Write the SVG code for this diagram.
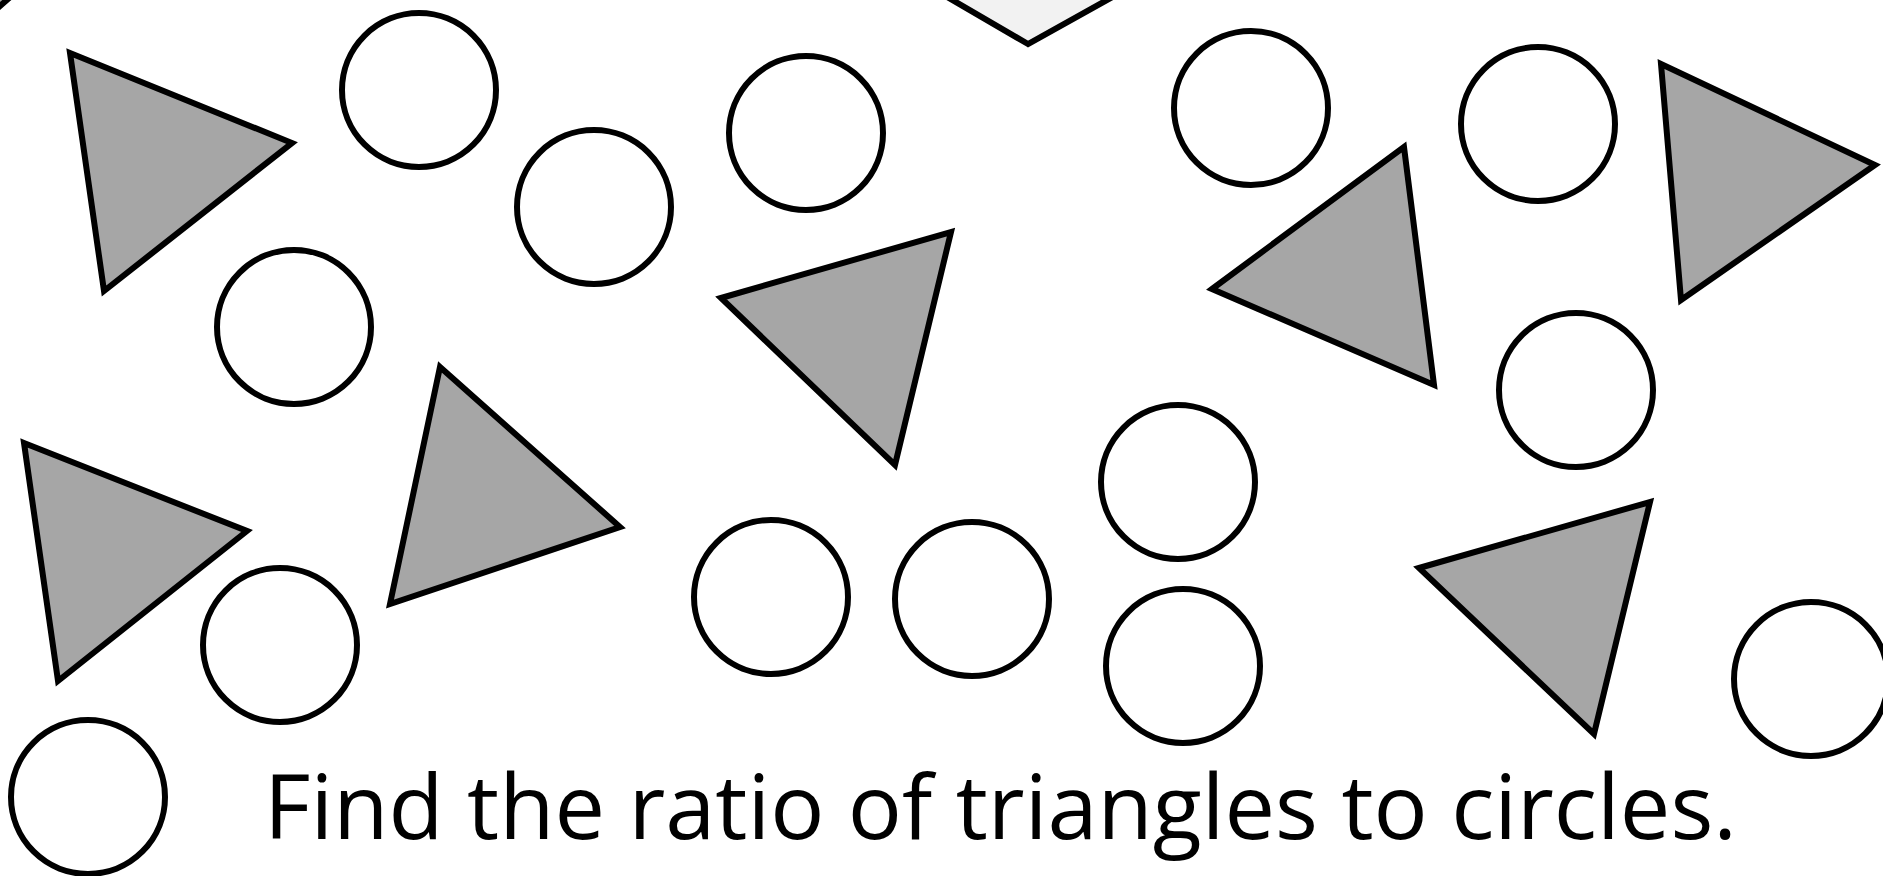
<svg xmlns="http://www.w3.org/2000/svg" width="1883" height="876" viewBox="0 0 1883 876">
<style>
.c{fill:#ffffff;stroke:#000000;stroke-width:6}
.t{fill:#a6a6a6;stroke:#000000;stroke-width:6;stroke-linejoin:miter}
.p{fill:#f2f2f2;stroke:#000000;stroke-width:6}
.lbl{font-family:"Open Sans","Noto Sans","Liberation Sans",sans-serif;font-size:90px;fill:#000000}
</style>
<rect width="1883" height="876" fill="#ffffff"/>
<g id="partial-top"><polygon class="p" points="1028,44 918,-20 1143,-20"/></g>
<g id="partial-corner"><polygon class="t" points="8,-1 0,6 -30,-20"/></g>
<g id="circles">
<circle id="c1" class="c" cx="419" cy="90" r="77"/>
<circle id="c2" class="c" cx="594" cy="207" r="77"/>
<circle id="c3" class="c" cx="294" cy="327" r="77"/>
<circle id="c4" class="c" cx="806" cy="133" r="77"/>
<circle id="c5" class="c" cx="1251" cy="108" r="77"/>
<circle id="c6" class="c" cx="1538" cy="124" r="77"/>
<circle id="c7" class="c" cx="1576" cy="390" r="77"/>
<circle id="c8" class="c" cx="1178" cy="482" r="77"/>
<circle id="c9" class="c" cx="280" cy="645" r="77"/>
<circle id="c10" class="c" cx="771" cy="597" r="77"/>
<circle id="c11" class="c" cx="972" cy="599" r="77"/>
<circle id="c12" class="c" cx="1183" cy="666" r="77"/>
<circle id="c13" class="c" cx="1811" cy="679" r="77"/>
<circle id="c14" class="c" cx="88" cy="797" r="77"/>
</g>
<g id="triangles">
<polygon id="t1" class="t" points="70,53 292,143 104,291"/>
<polygon id="t2" class="t" points="1661,64 1875,165 1681,300"/>
<polygon id="t3" class="t" points="1212,289 1404,147 1434,385"/>
<polygon id="t4" class="t" points="721,298 951,232 895,465"/>
<polygon id="t5" class="t" points="24,443 247,531 58,681"/>
<polygon id="t6" class="t" points="440,367 620,527 390,604"/>
<polygon id="t7" class="t" points="1419,568 1650,502 1594,734"/>
</g>
<g id="connectors"/>
<text class="lbl" x="264" y="839" textLength="1473" lengthAdjust="spacingAndGlyphs">Find the ratio of triangles to circles.</text>
</svg>
